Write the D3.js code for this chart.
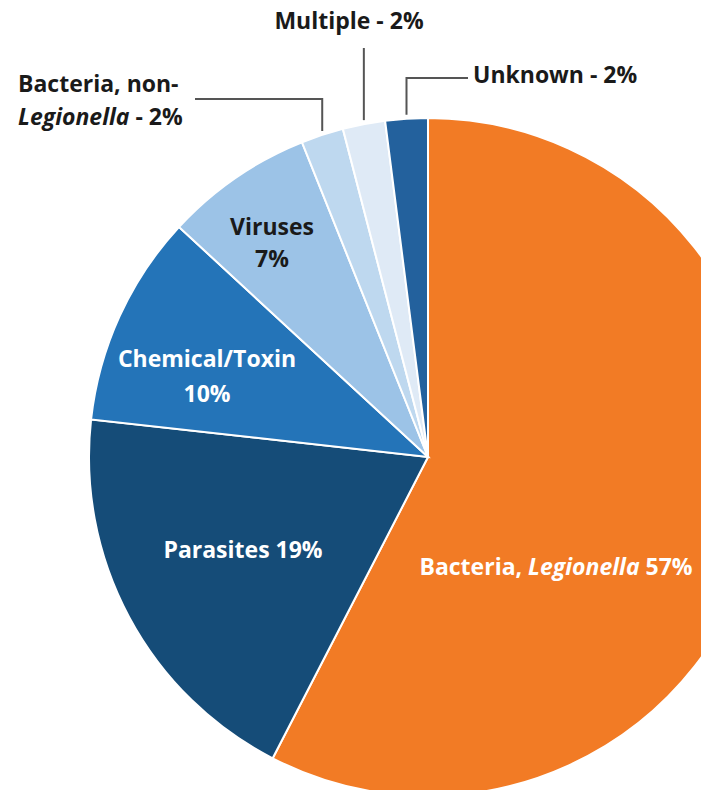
<!DOCTYPE html>
<html>
<head>
<meta charset="utf-8">
<script src="https://cdn.jsdelivr.net/npm/d3@7"></script>
<style>
  body { margin: 0; background: #fff; }
  svg { display: block; font-family: "Open Sans", sans-serif; font-weight: 700; }
</style>
</head>
<body>
<div id="chart"></div>
<script>
const width = 701;
const height = 790;

// data, clockwise from 12 o'clock
const categories = ["Bacteria, Legionella", "Parasites", "Chemical/Toxin", "Viruses",
    "Bacteria, non-Legionella", "Multiple", "Unknown"];
const percents = [57, 19, 10, 7, 2, 2, 2];
const colours = ["#f27b25", "#154c78", "#2474b8", "#9cc3e7", "#bed8ef", "#dfeaf6", "#23619d"];

const cx = 428;
const cy = 457;
const radius = 339;
const fontSize = "23px";

let svg = d3.select("#chart").append("svg")
    .attr("width", width)
    .attr("height", height);

let g = svg.append("g")
    .attr("transform", `translate(${cx},${cy})`);

let data = categories.map((c, i) => ({ cat: c, value: percents[i], colour: colours[i] }));

let pie = d3.pie()
    .sort(null)
    .value(d => d.value);

let arc = d3.arc()
    .innerRadius(0)
    .outerRadius(radius);

let arcs = pie(data);

g.selectAll("path.slice")
    .data(arcs)
    .join("path")
        .attr("class", "slice")
        .attr("d", arc)
        .attr("fill", d => d.data.colour)
        .attr("stroke", "#fff")
        .attr("stroke-width", 2);

// labels inside the big slices (offsets from pie centre)
const inside = {
    "Bacteria, Legionella": { dx: 128, dy: 118, gap: 34, fill: "#fff", lines: [[["Bacteria, ", "normal"], ["Legionella", "italic"], [" 57%", "normal"]]] },
    "Parasites": { dx: -185, dy: 101, gap: 34, fill: "#fff", lines: [[["Parasites 19%", "normal"]]] },
    "Chemical/Toxin": { dx: -221, dy: -90, gap: 35, fill: "#fff", lines: [[["Chemical/Toxin", "normal"]], [["10%", "normal"]]] },
    "Viruses": { dx: -156, dy: -222, gap: 32, fill: "#1a1a1a", lines: [[["Viruses", "normal"]], [["7%", "normal"]]] }
};

arcs.forEach(d => {
    let lab = inside[d.data.cat];
    if (!lab) return;
    let t = g.append("text")
        .attr("text-anchor", "middle")
        .attr("fill", lab.fill)
        .style("font-size", fontSize);
    lab.lines.forEach((line, li) => {
        line.forEach((part, pi) => {
            let s = t.append("tspan").text(part[0]).style("font-style", part[1]);
            if (pi === 0) s.attr("x", lab.dx).attr("y", lab.dy + li * lab.gap);
        });
    });
});

// call-out labels for the small slices
const callouts = {
    "Bacteria, non-Legionella": { elbowY: -358, endX: -233, textX: -410, textY: -365, anchor: "start",
        lines: [[["Bacteria, non-", "normal"]], [["Legionella", "italic"], [" - 2%", "normal"]]] },
    "Multiple": { elbowY: -409, endX: null, textX: -79, textY: -428, anchor: "middle",
        lines: [[["Multiple - 2%", "normal"]]] },
    "Unknown": { elbowY: -379, endX: 40, textX: 45, textY: -374, anchor: "start",
        lines: [[["Unknown - 2%", "normal"]]] }
};

arcs.forEach(d => {
    let c = callouts[d.data.cat];
    if (!c) return;
    let mid = (d.startAngle + d.endAngle) / 2;
    let x0 = radius * Math.sin(mid);
    let y0 = -radius * Math.cos(mid) - 4;
    let pts = [[x0, y0], [x0, c.elbowY]];
    if (c.endX !== null) pts.push([c.endX, c.elbowY]);
    g.append("path")
        .attr("d", d3.line()(pts))
        .attr("fill", "none")
        .attr("stroke", "#555")
        .attr("stroke-width", 2);
    let t = g.append("text")
        .attr("text-anchor", c.anchor)
        .attr("fill", "#1a1a1a")
        .style("font-size", fontSize);
    c.lines.forEach((line, li) => {
        line.forEach((part, pi) => {
            let s = t.append("tspan").text(part[0]).style("font-style", part[1]);
            if (pi === 0) s.attr("x", c.textX).attr("y", c.textY + li * 33);
        });
    });
});
</script>
</body>
</html>
